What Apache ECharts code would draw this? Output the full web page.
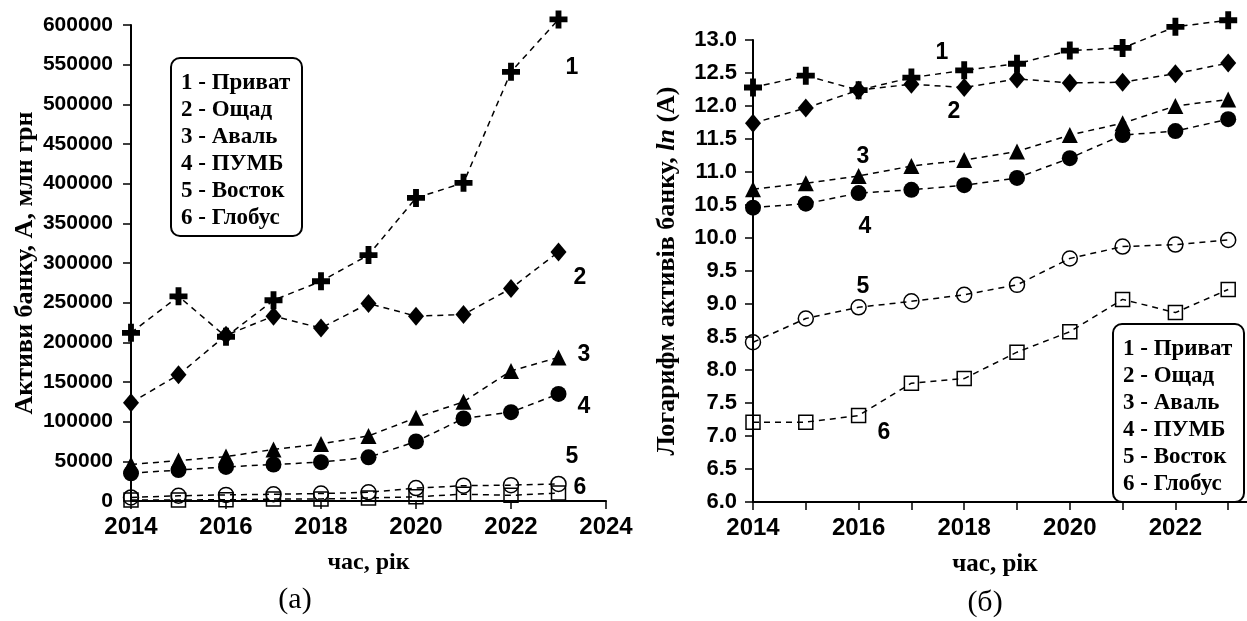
<!DOCTYPE html>
<html><head><meta charset="utf-8">
<script src="https://cdn.jsdelivr.net/npm/echarts@6/dist/echarts.min.js"></script>
<style>html,body{margin:0;padding:0;background:#fff}#c{width:1247px;height:621px}</style>
</head><body><div id="c"></div>
<script>
const years = [2014, 2015, 2016, 2017, 2018, 2019, 2020, 2021, 2022, 2023];
const bankNames = ['1 - Приват', '2 - Ощад', '3 - Аваль', '4 - ПУМБ', '5 - Восток', '6 - Глобус'];
// (a) assets, mln UAH
const privatA = [212000, 258000, 207000, 253000, 277000, 310000, 382000, 401000, 541000, 607000];
const oshchadA = [124000, 159000, 209000, 233000, 218000, 249000, 233000, 235000, 268000, 314000];
const avalA = [46000, 51000, 56000, 65000, 72000, 82000, 105000, 125000, 164000, 181000];
const pumbA = [35000, 39000, 43000, 46000, 49000, 55000, 75000, 104000, 112000, 135000];
const vostokA = [4500, 6600, 7700, 8500, 9400, 11000, 16300, 19300, 20000, 21500];
const globusA = [1350, 1350, 1500, 2450, 2600, 3900, 5300, 8600, 7100, 10000];
// (б) ln of assets
const privatL = [12.28, 12.46, 12.24, 12.43, 12.54, 12.64, 12.84, 12.88, 13.20, 13.30];
const oshchadL = [11.74, 11.97, 12.24, 12.33, 12.28, 12.41, 12.35, 12.36, 12.49, 12.65];
const avalL = [10.74, 10.83, 10.94, 11.09, 11.18, 11.31, 11.56, 11.74, 12.00, 12.10];
const pumbL = [10.46, 10.52, 10.68, 10.73, 10.80, 10.91, 11.21, 11.56, 11.62, 11.80];
const vostokL = [8.42, 8.78, 8.95, 9.04, 9.14, 9.29, 9.69, 9.87, 9.90, 9.97];
const globusL = [7.21, 7.21, 7.31, 7.80, 7.87, 8.27, 8.58, 9.07, 8.87, 9.22];

const SANS = 'Liberation Sans, Arial, sans-serif';
const SERIF = 'Liberation Serif, Times New Roman, serif';
const PLUS = 'path://M-1.3,-4 L1.3,-4 L1.3,-1.3 L4,-1.3 L4,1.3 L1.3,1.3 L1.3,4 L-1.3,4 L-1.3,1.3 L-4,1.3 L-4,-1.3 L-1.3,-1.3 Z';

const styles = [
  {symbol: PLUS, size: 18, hollow: false},
  {symbol: 'diamond', size: [16, 19], hollow: false},
  {symbol: 'triangle', size: 16, hollow: false},
  {symbol: 'circle', size: 16, hollow: false},
  {symbol: 'circle', size: 15, hollow: true},
  {symbol: 'rect', size: 14, hollow: true}
];
const seriesA = [privatA, oshchadA, avalA, pumbA, vostokA, globusA];
const seriesL = [privatL, oshchadL, avalL, pumbL, vostokL, globusL];

function mk(vals, idx, axisIdx) {
  const st = styles[idx];
  return {
    type: 'line', xAxisIndex: axisIdx, yAxisIndex: axisIdx,
    data: years.map((y, i) => [y, vals[i]]),
    symbol: st.symbol, symbolSize: st.size, clip: false,
    lineStyle: {color: '#000', width: 1.5, type: [6, 5]},
    itemStyle: st.hollow ? {color: 'rgba(0,0,0,0)', borderColor: '#000', borderWidth: 1.5} : {color: '#000', borderWidth: 0},
    emphasis: {disabled: true}, z: 3 + idx
  };
}

const axisLineStyle = {show: true, lineStyle: {color: '#000', width: 2}};
const tickStyle = {show: true, length: 8, lineStyle: {color: '#000', width: 1.5}};

function label(t, x, y, size) {
  return {type: 'text', x: x, y: y, style: {text: t, fill: '#000', font: 'bold ' + (size || 23) + 'px ' + SANS, align: 'center', verticalAlign: 'middle'}};
}
function legendBox(x, y) {
  return [
    {type: 'rect', shape: {x: x, y: y, width: 131, height: 178, r: 9}, style: {fill: 'rgba(0,0,0,0)', stroke: '#000', lineWidth: 2}},
    {type: 'text', x: x + 10, y: y + 12, style: {text: bankNames.join('\n'), fill: '#000', font: 'bold 23px ' + SERIF, lineHeight: 27, align: 'left', verticalAlign: 'top'}}
  ];
}

const option = {
  animation: false,
  backgroundColor: '#fff',
  grid: [
    {left: 131, width: 475, top: 25, bottom: 120, outerBoundsMode: 'none', containLabel: false},
    {left: 753, width: 528, top: 40, bottom: 119, outerBoundsMode: 'none', containLabel: false}
  ],
  xAxis: [
    {gridIndex: 0, type: 'value', min: 2014, max: 2024, interval: 2,
     axisLine: axisLineStyle, axisTick: tickStyle, splitLine: {show: false},
     axisLabel: {color: '#000', fontFamily: SANS, fontWeight: 'bold', fontSize: 24, margin: 14,
       formatter: v => String(v)},
     name: 'час, рік', nameLocation: 'middle', nameGap: 50,
     nameTextStyle: {color: '#000', fontFamily: SERIF, fontWeight: 'bold', fontSize: 24}},
    {gridIndex: 1, type: 'value', min: 2014, max: 2024, interval: 1,
     axisLine: axisLineStyle, axisTick: tickStyle, splitLine: {show: false},
     axisLabel: {color: '#000', fontFamily: SANS, fontWeight: 'bold', fontSize: 24, margin: 14,
       formatter: v => (v % 2 === 0 ? String(v) : '')},
     name: 'час, рік', nameLocation: 'middle', nameGap: 50,
     nameTextStyle: {color: '#000', fontFamily: SERIF, fontWeight: 'bold', fontSize: 25, padding: [0, 44, 0, 0]}}
  ],
  yAxis: [
    {gridIndex: 0, type: 'value', min: 0, max: 600000, interval: 50000,
     axisLine: axisLineStyle, axisTick: tickStyle, splitLine: {show: false},
     axisLabel: {color: '#000', fontFamily: SANS, fontWeight: 'bold', fontSize: 21, margin: 18,
       formatter: v => String(v)},
     name: 'Активи банку, А, млн грн', nameLocation: 'middle', nameRotate: 90, nameGap: 93,
     nameTextStyle: {color: '#000', fontFamily: SERIF, fontWeight: 'bold', fontSize: 26}},
    {gridIndex: 1, type: 'value', min: 6, max: 13, interval: 0.5,
     axisLine: axisLineStyle, axisTick: tickStyle, splitLine: {show: false},
     axisLabel: {color: '#000', fontFamily: SANS, fontWeight: 'bold', fontSize: 22, margin: 16,
       formatter: v => v.toFixed(1)},
     name: 'Логарифм активів банку, {i|ln} (A)', nameLocation: 'middle', nameRotate: 90, nameGap: 73,
     nameTextStyle: {color: '#000', fontFamily: SERIF, fontWeight: 'bold', fontSize: 26,
       rich: {i: {fontFamily: SERIF, fontWeight: 'bold', fontStyle: 'italic', fontSize: 26, color: '#000'}}}}
  ],
  series: seriesA.map((v, i) => mk(v, i, 0)).concat(seriesL.map((v, i) => mk(v, i, 1))),
  graphic: [
    ...legendBox(171, 58),
    ...legendBox(1113, 324),
    label('1', 572, 68), label('2', 580, 278), label('3', 584, 355),
    label('4', 584, 407), label('5', 572, 457), label('6', 580, 488),
    label('1', 942, 53), label('2', 954, 112), label('3', 863, 157),
    label('4', 865, 227), label('5', 863, 287), label('6', 884, 433),
    {type: 'text', x: 295, y: 600, style: {text: '(а)', fill: '#000', font: '30px ' + SERIF, align: 'center', verticalAlign: 'middle'}},
    {type: 'text', x: 985, y: 603, style: {text: '(б)', fill: '#000', font: '30px ' + SERIF, align: 'center', verticalAlign: 'middle'}}
  ]
};
const chart = echarts.init(document.getElementById('c'), null, {renderer: 'canvas'});
chart.setOption(option);
</script>
</body></html>
